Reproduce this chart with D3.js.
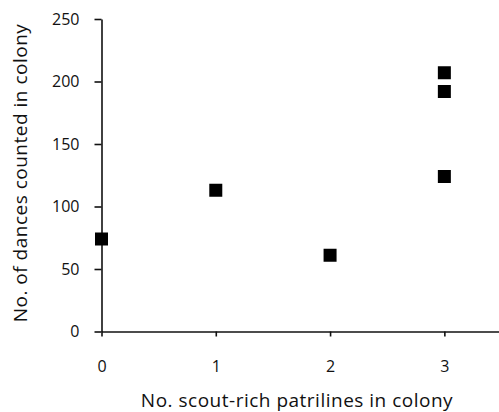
<!DOCTYPE html>
<html>
<head>
<meta charset="utf-8">
<script src="https://cdn.jsdelivr.net/npm/d3@7"></script>
<style>
  body { margin: 0; background: #fff; }
  text { font-family: "Open Sans", sans-serif; fill: #111; }
</style>
</head>
<body>
<svg id="canvas" width="499" height="412"></svg>
<script>
// data
let patrilines = [0, 1, 2, 3, 3, 3]
let dances = [74, 113, 61, 124, 192, 207]
let xTicks = [0, 1, 2, 3]
let yTicks = [0, 50, 100, 150, 200, 250]

let canvas = d3.select('#canvas')

let x = d3.scaleLinear().domain([0, 3.5]).range([101.5, 501.5])
let y = d3.scaleLinear().domain([0, 250]).range([331.5, 19])

// y axis
let yAxis = canvas.append('g')
    .attr('transform', 'translate(101.5,0)')
    .call(d3.axisLeft(y).tickValues(yTicks).tickFormat(d3.format('d')).tickSize(7).tickPadding(15).tickSizeOuter(0))
yAxis.select('.domain').attr('stroke', '#111').attr('stroke-width', 1.6)
yAxis.selectAll('.tick line').attr('stroke', '#111').attr('stroke-width', 1.6)
yAxis.selectAll('.tick text').style('font-size', '16px').attr('fill', '#111')

// x axis
let xAxis = canvas.append('g')
    .attr('transform', 'translate(0,331.5)')
    .call(d3.axisBottom(x).tickValues(xTicks).tickFormat(d3.format('d')).tickSize(5).tickPadding(24).tickSizeOuter(0))
xAxis.select('.domain').attr('stroke', '#111').attr('stroke-width', 1.6)
xAxis.selectAll('.tick line').attr('stroke', '#111').attr('stroke-width', 1.6)
xAxis.selectAll('.tick text').style('font-size', '16px').attr('fill', '#111')

// points
let size = 13
canvas.selectAll('rect.pt')
    .data(patrilines)
    .enter()
    .append('rect')
    .attr('class', 'pt')
    .attr('x', (d) => x(d) - size / 2)
    .attr('y', (d, i) => y(dances[i]) - size / 2)
    .attr('width', size)
    .attr('height', size)
    .attr('fill', '#000')

// axis titles
canvas.append('text')
    .attr('x', 297)
    .attr('y', 406.5)
    .attr('text-anchor', 'middle')
    .style('font-size', '19px')
    .style('letter-spacing', '0.5px')
    .text('No. scout-rich patrilines in colony')

canvas.append('text')
    .attr('transform', 'translate(26.5,173) rotate(-90)')
    .attr('text-anchor', 'middle')
    .style('font-size', '19px')
    .style('letter-spacing', '0.5px')
    .text('No. of dances counted in colony')
</script>
</body>
</html>
